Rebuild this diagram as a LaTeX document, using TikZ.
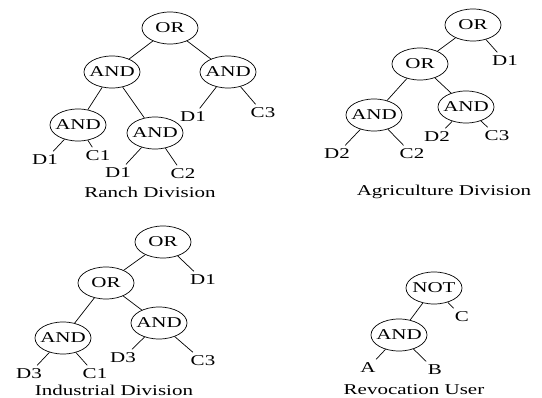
\documentclass[tikz,border=0pt]{standalone}
\usepackage{fontspec}
\setmainfont{Liberation Serif}[FakeStretch=1.4]
\usetikzlibrary{shapes.geometric, positioning}

\begin{document}
\begin{tikzpicture}[x=1pt, y=-1pt, line width=0.7pt,
        every node/.style={font=\fontsize{15}{18}\selectfont},
        gate/.style={draw, ellipse, minimum width=56pt, minimum height=32pt,
                        inner xsep=-7pt, inner ysep=0pt}]

            \useasboundingbox (0,0) rectangle (542,398);

            % Ranch Division
            \node[gate] (r0) at (170,28) {OR};
            \node[gate] (r1) at (112,72) {AND};
            \node[gate] (r2) at (228,72) {AND};
            \node[gate] (r3) at (78,125) {AND};
            \node[gate] (r4) at (155,133) {AND};
            \node (r2a) at (193,117) {D1};
            \node (r2b) at (263,113) {C3};
            \node (r3a) at (45,160) {D1};
            \node (r3b) at (98,156) {C1};
            \node (r4a) at (118,173) {D1};
            \node (r4b) at (183,174) {C2};
            \node (rname) at (150,192) {Ranch Division};

            \draw (r0) -- (r1);
            \draw (r0) -- (r2);
            \draw (r1) -- (r3);
            \draw (r1) -- (r4);
            \draw (r2) -- (r2a);
            \draw (r2) -- (r2b);
            \draw (r3) -- (r3a);
            \draw (r3) -- (r3b);
            \draw (r4) -- (r4a);
            \draw (r4) -- (r4b);

            % Agriculture Division
            \node[gate] (a0) at (473,25) {OR};
            \node[gate] (a1) at (420,64) {OR};
            \node[gate] (a2) at (374,115) {AND};
            \node[gate] (a3) at (466,107) {AND};
            \node (a0b) at (505,61) {D1};
            \node (a2a) at (337,154) {D2};
            \node (a2b) at (412,154) {C2};
            \node (a3a) at (437,137) {D2};
            \node (a3b) at (497,136) {C3};
            \node (aname) at (444,192) {Agriculture Division};

            \draw (a0) -- (a1);
            \draw (a0) -- (a0b);
            \draw (a1) -- (a2);
            \draw (a1) -- (a3);
            \draw (a2) -- (a2a);
            \draw (a2) -- (a2b);
            \draw (a3) -- (a3a);
            \draw (a3) -- (a3b);

            % Industrial Division
            \node[gate] (i0) at (163,242) {OR};
            \node[gate] (i1) at (106,283) {OR};
            \node[gate] (i2) at (63,338) {AND};
            \node[gate] (i3) at (159,323) {AND};
            \node (i0b) at (203,280) {D1};
            \node (i2a) at (29,374) {D3};
            \node (i2b) at (95,374) {C1};
            \node (i3a) at (123,358) {D3};
            \node (i3b) at (203,361) {C3};
            \node (iname) at (114,390) {Industrial Division};

            \draw (i0) -- (i1);
            \draw (i0) -- (i0b);
            \draw (i1) -- (i2);
            \draw (i1) -- (i3);
            \draw (i2) -- (i2a);
            \draw (i2) -- (i2b);
            \draw (i3) -- (i3a);
            \draw (i3) -- (i3b);

            % Revocation User
            \node[gate] (v0) at (434,288) {NOT};
            \node[gate] (v1) at (399,335) {AND};
            \node (v0b) at (462,317) {C};
            \node (v1a) at (368,368) {A};
            \node (v1b) at (435,370) {B};
            \node (vname) at (414,390) {Revocation User};

            \draw (v0) -- (v1);
            \draw (v0) -- (v0b);
            \draw (v1) -- (v1a);
            \draw (v1) -- (v1b);

\end{tikzpicture}
\end{document}
